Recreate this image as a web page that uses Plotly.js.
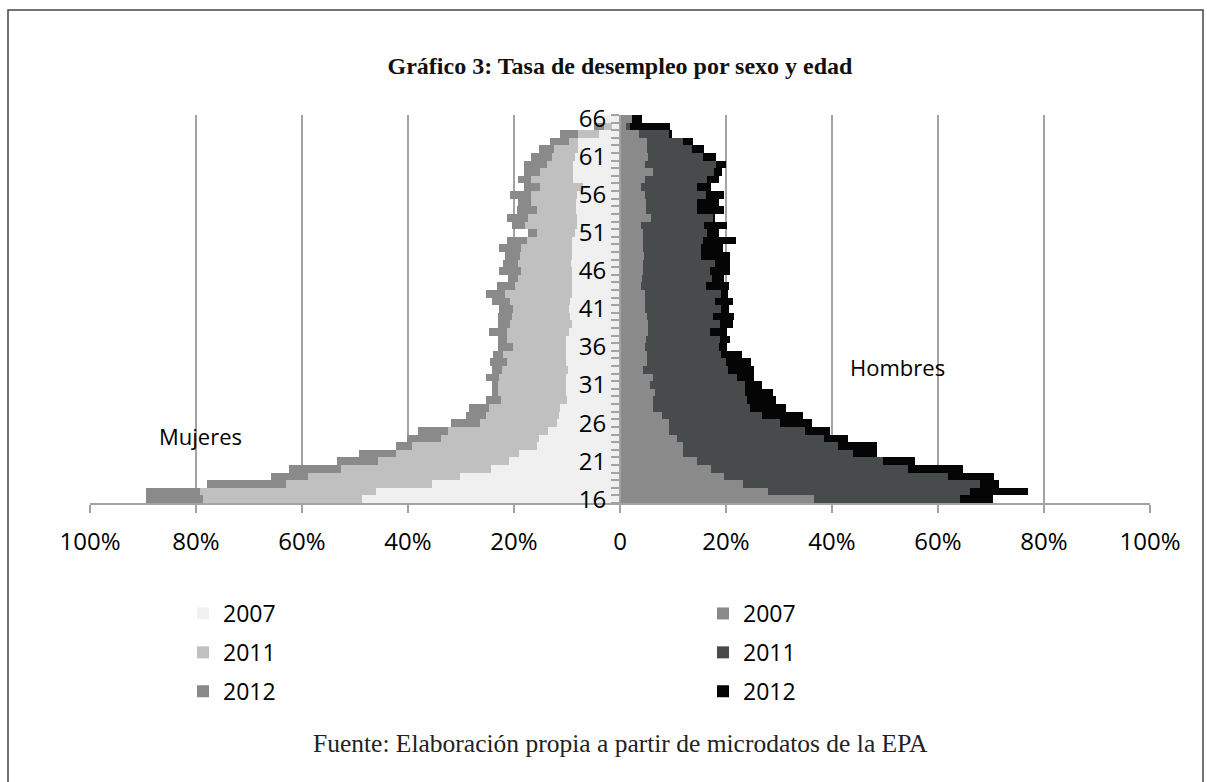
<!DOCTYPE html>
<html>
<head>
<meta charset="utf-8">
<script src="https://cdn.plot.ly/plotly-3.0.1.min.js"></script>
<style>html,body{margin:0;padding:0;background:#fff;}#chart{width:1207px;height:782px;}</style>
</head>
<body>
<div id="chart"></div>
<script>
// Ages (categories)
const ages = [16,17,18,19,20,21,22,23,24,25,26,27,28,29,30,31,32,33,34,35,36,37,38,39,40,
  41,42,43,44,45,46,47,48,49,50,51,52,53,54,55,56,57,58,59,60,61,62,63,64,65,66];
const ageTicks = [16,21,26,31,36,41,46,51,56,61,66];

// Women unemployment rate (%) by age
const women2007 = [48.7,46.0,35.5,30.2,24.4,21.0,19.0,15.7,15.3,13.6,
  11.9,11.6,11.3,10.0,10.1,10.1,10.1,9.9,10.1,10.1,
  10.2,10.2,9.7,9.1,9.4,9.7,9.4,9.1,9.1,9.1,
  9.1,9.3,9.1,9.1,9.1,8.5,8.2,8.2,8.3,8.3,
  8.2,6.9,8.9,8.8,8.8,8.5,7.9,7.9,3.9,1.5,
  4.4];
const women2011 = [78.6,79.3,63.1,58.8,52.7,45.7,42.3,39.2,33.8,32.5,
  26.4,25.2,24.8,22.4,23.0,23.0,22.8,22.3,21.4,22.0,
  20.1,21.4,21.4,20.8,20.4,20.1,20.8,21.7,19.8,19.2,
  18.6,19.2,18.9,18.6,17.6,15.7,17.9,17.3,15.6,16.7,
  16.7,15.1,16.7,15.1,13.8,12.9,12.5,9.7,7.9,3.0,
  3.5];
const women2012 = [89.4,89.4,78.0,65.8,62.5,53.4,49.3,42.3,40.2,38.2,
  31.8,29.0,28.4,25.2,24.2,24.2,25.2,24.2,24.5,23.9,
  23.0,23.0,24.8,23.1,23.1,22.8,24.2,25.2,23.3,21.1,
  22.8,22.0,21.7,22.8,21.4,17.3,20.4,21.4,19.5,19.2,
  20.8,18.2,19.2,18.2,18.2,16.7,15.2,13.3,11.4,5.0,
  4.0];

// Men unemployment rate (%) by age
const men2007 = [36.6,28.0,23.3,19.6,17.1,14.6,11.9,11.9,10.7,9.3,
  9.3,7.9,6.2,6.3,6.6,5.7,6.3,4.4,5.0,5.0,
  4.7,4.9,5.2,5.2,5.0,4.7,4.8,4.7,4.0,4.1,
  4.4,4.4,4.5,4.4,4.4,4.4,4.0,5.8,4.9,4.9,
  4.7,4.0,4.7,6.3,4.8,5.3,5.0,5.0,3.5,1.1,
  2.2];
const men2011 = [64.2,66.0,68.0,61.9,54.4,49.7,44.0,41.2,38.4,34.9,
  30.2,26.7,24.5,23.9,23.6,23.6,22.0,20.4,20.0,19.0,
  18.6,18.9,16.9,18.9,17.6,19.0,17.9,19.0,16.2,17.3,
  17.0,17.9,15.2,15.3,15.7,16.4,15.9,17.5,14.6,14.6,
  16.2,14.5,16.5,17.7,18.1,15.7,13.5,11.8,9.3,1.8,
  1.5];
const men2012 = [70.4,77.0,71.5,70.5,64.7,55.7,48.4,48.4,43.1,39.6,
  36.2,34.5,31.4,29.4,28.9,26.7,25.2,25.2,24.8,23.1,
  20.1,20.8,20.1,21.3,21.5,20.5,21.3,20.3,20.6,19.6,
  20.8,20.8,20.7,19.5,21.8,18.6,20.1,18.0,19.6,18.6,
  19.6,17.2,18.7,19.2,20.0,18.1,15.8,13.7,9.9,9.4,
  4.1];

const xTickVals = [-100,-80,-60,-40,-20,0,20,40,60,80,100];
const xTickText = ['100%','80%','60%','40%','20%','0','20%','40%','60%','80%','100%'];

const W = 1207, H = 782;
const M = {l:90, r:57, t:115, b:279};
const plotW = W - M.l - M.r, plotH = H - M.t - M.b;
const px2x = p => (p - M.l) / plotW;
const px2y = p => (H - M.b - p) / plotH;

const SANS = 'Open Sans, sans-serif';
const SERIF = 'Liberation Serif, serif';

function bar(vals, neg, name, color, legend, rank) {
  return {
    type: 'bar', orientation: 'h',
    y: ages, x: vals.map(v => neg ? -v : v),
    width: 1, name: name,
    marker: {color: color, line: {width: 0}},
    legend: legend, legendrank: rank, legendgroup: legend + name,
    hoverinfo: 'skip'
  };
}

const data = [
  bar(women2012, true, '2012', '#8a8a8a', 'legend', 3),
  bar(women2011, true, '2011', '#c0c0c0', 'legend', 2),
  bar(women2007, true, '2007', '#eff0ef', 'legend', 1),
  bar(men2012, false, '2012', '#050505', 'legend2', 3),
  bar(men2011, false, '2011', '#474b4c', 'legend2', 2),
  bar(men2007, false, '2007', '#8a8a8a', 'legend2', 1)
];

const minorVals = ages.map(a => a - 0.5).concat([ages[ages.length-1] + 0.5]);

const legendCommon = {
  yanchor: 'top', xanchor: 'left', bgcolor: 'rgba(0,0,0,0)',
  font: {family: SANS, size: 23, color: '#000'},
  tracegroupgap: 6, itemclick: false, itemdoubleclick: false
};

const layout = {
  width: W, height: H, autosize: false,
  margin: M,
  paper_bgcolor: '#fff', plot_bgcolor: '#fff',
  barmode: 'overlay', bargap: 0,
  showlegend: true,
  title: {
    text: '<b>Gráfico 3: Tasa de desempleo por sexo y edad</b>',
    font: {family: SERIF, size: 24, color: '#111'},
    x: 0.5, xref: 'paper', xanchor: 'center',
    y: 1 - 66 / H, yref: 'container', yanchor: 'middle'
  },
  xaxis: {
    range: [-100, 100], fixedrange: true,
    tickmode: 'array', tickvals: xTickVals, ticktext: xTickText,
    showgrid: true, gridcolor: '#a3a3a3', gridwidth: 2,
    zeroline: false,
    showline: true, linecolor: '#a3a3a3', linewidth: 2,
    ticks: 'outside', ticklen: 8, tickwidth: 2, tickcolor: '#a3a3a3',
    ticklabelstandoff: 8,
    tickfont: {family: SANS, size: 24, color: '#000'}
  },
  yaxis: {
    range: [15.5, 66.5], fixedrange: true,
    anchor: 'free', position: 0.5,
    tickmode: 'array', tickvals: ageTicks, ticktext: ageTicks.map(String),
    ticks: 'outside', ticklen: 8, tickcolor: 'rgba(0,0,0,0)',
    showgrid: false, zeroline: false,
    showline: true, linecolor: '#a3a3a3', linewidth: 2,
    tickfont: {family: SANS, size: 24, color: '#000'},
    minor: {tickmode: 'array', tickvals: minorVals, ticks: 'outside', ticklen: 8,
            tickwidth: 2, tickcolor: '#a3a3a3', showgrid: false}
  },
  legend: Object.assign({x: px2x(183), y: px2y(592)}, legendCommon),
  legend2: Object.assign({x: px2x(703), y: px2y(592)}, legendCommon),
  annotations: [
    {text: 'Mujeres', xref: 'x', yref: 'y', x: -79.2, y: 24.3, showarrow: false,
     font: {family: SANS, size: 22, color: '#000'}},
    {text: 'Hombres', xref: 'x', yref: 'y', x: 52.3, y: 33.4, showarrow: false,
     font: {family: SANS, size: 22, color: '#000'}},
    {text: 'Fuente: Elaboración propia a partir de microdatos de la EPA',
     xref: 'paper', yref: 'paper', x: 0.5, y: px2y(743), xanchor: 'center', yanchor: 'middle',
     showarrow: false, font: {family: SERIF, size: 25.5, color: '#222'}}
  ],
  shapes: [
    {type: 'rect', xref: 'paper', yref: 'paper', layer: 'below',
     x0: px2x(8), x1: px2x(1203), y0: px2y(820), y1: px2y(10),
     line: {color: '#444', width: 1.5}, fillcolor: 'rgba(0,0,0,0)'}
  ]
};

Plotly.newPlot('chart', data, layout, {displayModeBar: false, staticPlot: true});
</script>
</body>
</html>
